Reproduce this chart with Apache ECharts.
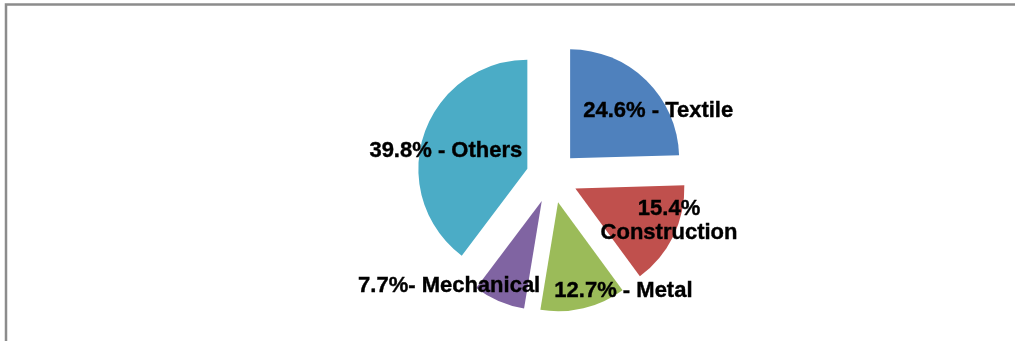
<!DOCTYPE html>
<html>
<head>
<meta charset="utf-8">
<style>
  html, body { margin: 0; padding: 0; background: #ffffff; }
  #chart { width: 1015px; height: 341px; }
</style>
<script src="https://cdn.jsdelivr.net/npm/echarts@6/dist/echarts.min.js"></script>
</head>
<body>
<div id="chart"></div>
<script>
// Share of each sector, in percent, clockwise from twelve o'clock
const sectors = ['Textile', 'Construction', 'Metal', 'Mechanical', 'Others'];
const shares = [24.6, 15.4, 12.7, 7.7, 39.8];
// Text placed between the percentage and the sector name
const separators = [' - ', '\n', ' - ', '- ', ' - '];

const palette = ['#4F81BD', '#C0504D', '#9BBB59', '#8064A2', '#4BACC6'];
// Label nudges from the default inside position [dx, dy]
const labelNudge = [[48, -6], [42, 7], [52, 33], [-70, 32], [-27, 0]];

const chart = echarts.init(document.getElementById('chart'), null, { renderer: 'canvas' });

const pieData = sectors.map((name, i) => ({
  name: name,
  value: shares[i],
  selected: true,
  itemStyle: { color: palette[i] }
}));

chart.setOption({
  animation: false,
  backgroundColor: '#ffffff',
  graphic: [{
    type: 'rect',
    silent: true,
    shape: { x: 6, y: 4.5, width: 1100, height: 400 },
    style: { fill: 'none', stroke: '#8c8c8c', lineWidth: 2.5 }
  }],
  series: [{
    type: 'pie',
    center: [552, 177],
    radius: [0, 109],
    startAngle: 90,
    clockwise: true,
    selectedMode: 'multiple',
    selectedOffset: 26,
    avoidLabelOverlap: false,
    itemStyle: { borderWidth: 0 },
    emphasis: { disabled: true },
    label: {
      show: true,
      position: 'inside',
      color: '#000000',
      fontFamily: '"Liberation Sans", Arial, sans-serif',
      fontWeight: 'bold',
      fontSize: 22,
      lineHeight: 24,
      align: 'center',
      textBorderColor: '#000000',
      textBorderWidth: 0.4,
      formatter: p => p.value + '%' + separators[p.dataIndex] + p.name
    },
    labelLine: { show: false },
    labelLayout: p => ({ dx: labelNudge[p.dataIndex][0], dy: labelNudge[p.dataIndex][1] }),
    data: pieData
  }]
});
</script>
</body>
</html>
